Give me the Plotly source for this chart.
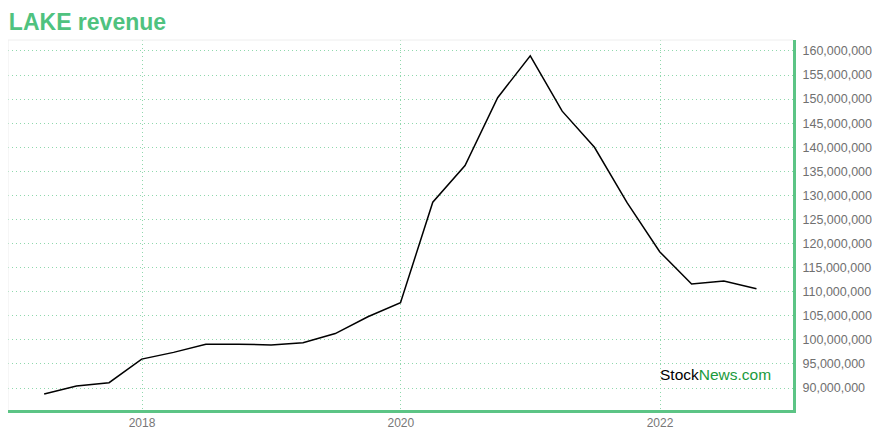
import plotly.graph_objects as go

dates = ["2017-03-31", "2017-06-30", "2017-09-30", "2017-12-31",
         "2018-03-31", "2018-06-30", "2018-09-30", "2018-12-31",
         "2019-03-31", "2019-06-30", "2019-09-30", "2019-12-31",
         "2020-03-31", "2020-06-30", "2020-09-30", "2020-12-31",
         "2021-03-31", "2021-06-30", "2021-09-30", "2021-12-31",
         "2022-03-31", "2022-06-30", "2022-09-30"]
revenue = [88.75e6, 90.4e6, 91.1e6, 96.0e6,
           97.4e6, 99.1e6, 99.1e6, 98.95e6,
           99.4e6, 101.3e6, 104.8e6, 107.7e6,
           128.6e6, 136.2e6, 150.3e6, 159.0e6,
           147.5e6, 140.0e6, 128.5e6, 118.3e6,
           111.6e6, 112.2e6, 110.6e6]
y_ticks = list(range(90_000_000, 160_000_001, 5_000_000))
y_tick_labels = [f"{v:,}" for v in y_ticks]
x_ticks = ["2018-01-01", "2020-01-01", "2022-01-01"]
x_tick_labels = ["2018", "2020", "2022"]

green = "#5cc485"
grid = "#8fd8ad"

fig = go.Figure()
fig.add_trace(go.Scatter(x=dates, y=revenue, mode="lines",
                         line=dict(color="#000000", width=1.5),
                         hoverinfo="skip"))

fig.update_layout(
    width=872, height=424,
    margin=dict(l=0, r=87, t=32, b=22),
    paper_bgcolor="white", plot_bgcolor="white",
    showlegend=False,
    title=dict(text="<b>LAKE revenue</b>", x=0.001, xanchor="left",
               y=0.967, yanchor="middle", yref="container",
               font=dict(family="Liberation Sans, Arial, sans-serif", size=23, color="#4fc27f")),
    xaxis=dict(type="date", range=["2016-12-19", "2023-01-11"],
               tickvals=x_ticks, ticktext=x_tick_labels,
               showgrid=True, gridcolor=grid, griddash="1px,3px", gridwidth=1,
               showline=True, linecolor=green, linewidth=3,
               ticks="", zeroline=False,
               tickfont=dict(family="Liberation Sans, Arial, sans-serif", size=12, color="#777777")),
    yaxis=dict(side="right", range=[85.43e6, 162.28e6],
               tickvals=y_ticks, ticktext=y_tick_labels,
               showgrid=True, gridcolor=grid, griddash="1px,3px", gridwidth=1,
               showline=True, linecolor=green, linewidth=3,
               ticks="", ticklabelstandoff=4, zeroline=False,
               tickfont=dict(family="Liberation Sans, Arial, sans-serif", size=12.5, color="#707070")),
    shapes=[
        dict(type="line", xref="paper", yref="paper", x0=0, x1=1, y0=1, y1=1,
             line=dict(color="#eeeeee", width=1)),
        dict(type="line", xref="paper", yref="paper", x0=0, x1=0, y0=0, y1=1,
             line=dict(color="#eeeeee", width=1)),
    ],
    annotations=[
        dict(text="Stock<span style='color:#1a9a3c'>News.com</span>",
             xref="paper", yref="paper", x=0.975, y=0.097, xanchor="right", yanchor="middle",
             showarrow=False,
             font=dict(family="Liberation Sans, Arial, sans-serif", size=15.5, color="#000000")),
    ],
)

fig.write_html("out.html")
